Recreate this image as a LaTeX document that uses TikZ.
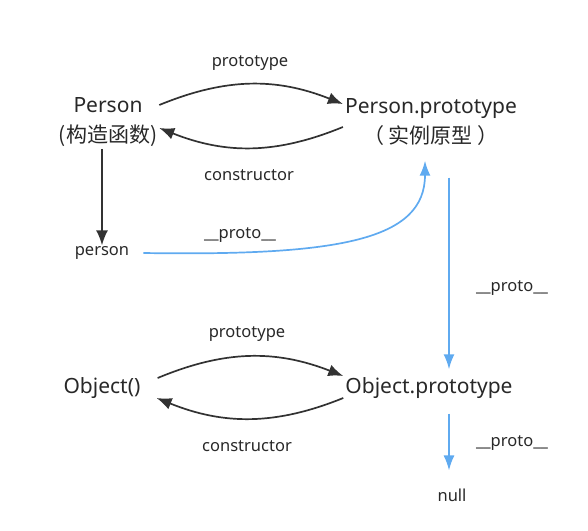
\documentclass[tikz,border=0pt]{standalone}
\usepackage{fontspec}
\usepackage{tikz}
\usetikzlibrary{arrows.meta}
\setmainfont{Noto Sans}
\newfontfamily\cjk{Noto Sans CJK SC}
\definecolor{arrowgray}{RGB}{50,50,50}
\definecolor{protoblue}{RGB}{95,170,240}
\definecolor{textgray}{RGB}{40,40,40}

\begin{document}
\begin{tikzpicture}[x=1pt, y=-1pt,
    fnnode/.style={text=textgray, align=center, inner sep=2pt, font=\fontsize{21}{30}\selectfont},
    lbl/.style={text=textgray, inner sep=1pt, font=\fontsize{16.5}{20}\selectfont},
    darr/.style={draw=arrowgray, line width=1.7pt, -{Latex[length=15pt,width=12pt]}},
    barr/.style={draw=protoblue, line width=1.7pt, -{Latex[length=15pt,width=11pt]}}]
    \useasboundingbox (0,0) rectangle (588,530);

    \node[fnnode] (person_fn) at (108,122) {Person\\{\cjk (构造函数)}};
    \node[fnnode] (person_proto) at (431,122) {Person.prototype\\{\cjk （ 实例原型 ）}};
    \node[lbl] (person) at (102,253) {person};
    \node[fnnode] (object_fn) at (102,388) {Object()};
    \node[fnnode] (object_proto) at (429,388) {Object.prototype};
    \node[lbl] (null) at (452,495) {null};

    \node[lbl] (lbl_proto_top) at (250,63) {prototype};
    \node[lbl] (lbl_ctor_top) at (249,175) {constructor};
    \node[lbl] (lbl_dunder_person) at (240,235) {\_\_proto\_\_};
    \node[lbl] (lbl_dunder_right) at (512,288) {\_\_proto\_\_};
    \node[lbl] (lbl_proto_bot) at (247,334) {prototype};
    \node[lbl] (lbl_ctor_bot) at (247,446) {constructor};
    \node[lbl] (lbl_dunder_null) at (512,443) {\_\_proto\_\_};

    % Person <-> Person.prototype
    \draw[darr] ([yshift=17pt]person_fn.east) to[bend left=22] ([yshift=18pt]person_proto.west);
    \draw[darr] ([yshift=-5pt]person_proto.west) to[bend left=22] ([yshift=-6pt]person_fn.east);
    \draw[darr] (person_fn.south -| person) -- (person.north);

    % __proto__ chain
    \draw[barr] ([xshift=13pt]person.east) .. controls (340,256) and (425,240) .. ([shift={(-6pt,-13pt)}]person_proto.south);
    \draw[barr] ([shift={(18pt,-30pt)}]person_proto.south) -- ([shift={(20pt,6pt)}]object_proto.north);
    \draw[barr] ([shift={(20pt,-13pt)}]object_proto.south) -- ([shift={(-3pt,17pt)}]null.north);

    % Object() <-> Object.prototype
    \draw[darr] ([shift={(15pt,10pt)}]object_fn.east) to[bend left=22] ([yshift=12pt]object_proto.west);
    \draw[darr] ([yshift=-10pt]object_proto.west) to[bend left=22] ([shift={(14pt,-10pt)}]object_fn.east);
\end{tikzpicture}
\end{document}
